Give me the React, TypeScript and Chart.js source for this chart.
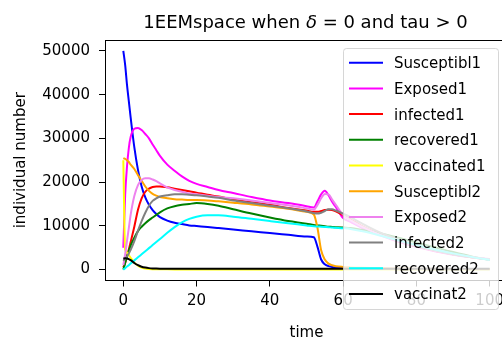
import React, { useEffect, useRef } from "react";
import { Chart, registerables } from "chart.js";

Chart.register(...registerables);

const TITLE_A = "1EEMspace when ";
const TITLE_DELTA = "δ";
const TITLE_B = " = 0 and tau > 0";
const X_LABEL = "time";
const Y_LABEL = "individual number";

const X_TICKS = [0, 20, 40, 60, 80, 100];
const Y_TICKS = [0, 10000, 20000, 30000, 40000, 50000];

const TIME = [0, 0.5, 1, 1.5, 2, 3, 4, 5, 6, 7, 8, 9, 10, 12, 14, 16, 18, 20, 23, 26, 30, 35, 40, 45, 50, 52, 53, 54, 55, 56, 57, 58, 60, 62, 65, 70, 75, 80, 85, 90, 95, 100];

const SUSCEPTIBL1 = [50000, 46800, 42300, 38500, 34800, 28000, 22800, 19000, 16500, 14800, 13600, 12700, 12000, 11200, 10700, 10400, 10100, 9950, 9730, 9490, 9160, 8760, 8350, 7950, 7550, 7380, 5200, 2300, 1200, 800, 600, 450, 300, 250, 200, 150, 120, 100, 100, 100, 100, 100];
const EXPOSED1 = [5000, 17000, 23500, 27800, 30300, 32200, 32400, 31900, 31000, 30000, 28600, 27300, 26000, 24000, 22600, 21300, 20300, 19600, 18900, 18200, 17500, 16600, 15800, 15200, 14500, 14200, 15600, 17200, 18000, 17000, 15500, 14300, 11800, 10900, 9600, 7900, 6400, 5200, 4200, 3400, 2800, 2300];
const INFECTED1 = [500, 1500, 3000, 4600, 6300, 9800, 13700, 16300, 17800, 18500, 18900, 19000, 19000, 18800, 18500, 18200, 17900, 17600, 17100, 16700, 16000, 15400, 14800, 14100, 13500, 13200, 13200, 13400, 13600, 13700, 13600, 13300, 12400, 11500, 10000, 8100, 6500, 5300, 4300, 3500, 2800, 2300];
const RECOVERED1 = [0, 1500, 3000, 4300, 5500, 7300, 8800, 9800, 10600, 11300, 11900, 12500, 13100, 14000, 14500, 14800, 15000, 15200, 15000, 14600, 13800, 12800, 11900, 11100, 10500, 10200, 10100, 10000, 9900, 9800, 9750, 9700, 9600, 9500, 9100, 8300, 7300, 6200, 5100, 4000, 3000, 2200];
const VACCINATED1 = [25000, 4500, 3900, 3300, 2700, 1600, 900, 450, 250, 150, 100, 80, 60, 50, 40, 30, 30, 30, 30, 30, 30, 30, 30, 30, 30, 30, 30, 30, 30, 30, 30, 30, 30, 30, 30, 30, 30, 30, 30, 30, 30, 30];
const SUSCEPTIBL2 = [25500, 25300, 25000, 24600, 24000, 23000, 21600, 20300, 19000, 18000, 17300, 16900, 16600, 16300, 16100, 16000, 15900, 15900, 15800, 15600, 15300, 14900, 14400, 13900, 13200, 12600, 9500, 4400, 2300, 1350, 1000, 780, 600, 500, 400, 300, 250, 200, 200, 150, 150, 150];
const EXPOSED2 = [1000, 3500, 6500, 9500, 12500, 16800, 19300, 20500, 20900, 20900, 20600, 20200, 19700, 18800, 18200, 17800, 17400, 17200, 16900, 16600, 16300, 15800, 15200, 14700, 14000, 13700, 14800, 16300, 17300, 17200, 16000, 14800, 12500, 11300, 9900, 8000, 6500, 5300, 4300, 3500, 2900, 2400];
const INFECTED2 = [2000, 2500, 3000, 3700, 4500, 6500, 8900, 11100, 13000, 14600, 15700, 16300, 16700, 17000, 17200, 17200, 17100, 17000, 16700, 16400, 15800, 15200, 14600, 14000, 13300, 12900, 12800, 13000, 13400, 13800, 13800, 13500, 12800, 12000, 10600, 8500, 6900, 5500, 4400, 3500, 2800, 2300];
const RECOVERED2 = [0, 300, 700, 1000, 1400, 2100, 2800, 3500, 4200, 4900, 5600, 6300, 7000, 8400, 9700, 10800, 11600, 12100, 12400, 12400, 12100, 11600, 11100, 10600, 10100, 9900, 9850, 9800, 9750, 9700, 9600, 9550, 9450, 9300, 8800, 7800, 6700, 5600, 4600, 3700, 2900, 2200];
const VACCINAT2 = [2500, 2600, 2550, 2400, 2150, 1500, 1000, 650, 450, 330, 260, 230, 210, 200, 200, 200, 200, 200, 200, 200, 200, 200, 200, 200, 200, 200, 200, 200, 200, 200, 200, 200, 200, 200, 200, 200, 200, 200, 200, 200, 200, 200];

const SERIES_NAMES = ["Susceptibl1", "Exposed1", "infected1", "recovered1", "vaccinated1", "Susceptibl2", "Exposed2", "infected2", "recovered2", "vaccinat2"];
const SERIES_VALUES = [SUSCEPTIBL1, EXPOSED1, INFECTED1, RECOVERED1, VACCINATED1, SUSCEPTIBL2, EXPOSED2, INFECTED2, RECOVERED2, VACCINAT2];
const SERIES_COLORS = ["#0000ff", "#ff00ff", "#ff0000", "#008000", "#ffff00", "#ffa500", "#ee82ee", "#808080", "#00ffff", "#000000"];

const FONT = "DejaVu Sans";

const decorPlugin = {
  id: "decor",
  afterDatasetsDraw(chart: any) {
    const { ctx, chartArea: a } = chart;
    ctx.save();
    ctx.strokeStyle = "#000";
    ctx.lineWidth = 1;
    const l = Math.round(a.left) + 0.5;
    const t = Math.round(a.top) + 0.5;
    const r = Math.round(a.right) + 0.5;
    const b = Math.floor(a.bottom) + 0.5;
    ctx.strokeRect(l, t, r - l, b - t);
    ctx.restore();
  },
  afterDraw(chart: any) {
    const { ctx, chartArea: a } = chart;
    ctx.save();
    // title
    ctx.fillStyle = "#000";
    ctx.textBaseline = "alphabetic";
    ctx.textAlign = "left";
    ctx.font = `18px "${FONT}"`;
    const wA = ctx.measureText(TITLE_A).width;
    const wB = ctx.measureText(TITLE_B).width;
    ctx.font = `italic 18px "${FONT}"`;
    const wD = ctx.measureText(TITLE_DELTA).width;
    const cx = (a.left + a.right) / 2 - 1;
    let x = cx - (wA + wB + wD) / 2;
    ctx.font = `18px "${FONT}"`;
    ctx.fillText(TITLE_A, x, 28);
    x += wA;
    ctx.font = `italic 18px "${FONT}"`;
    ctx.fillText(TITLE_DELTA, x, 28);
    x += wD;
    ctx.font = `18px "${FONT}"`;
    ctx.fillText(TITLE_B, x, 28);

    // x label
    ctx.font = `15px "${FONT}"`;
    ctx.textAlign = "center";
    ctx.fillText(X_LABEL, (a.left + a.right) / 2, 337);

    // y label
    ctx.save();
    ctx.translate(25, (a.top + a.bottom) / 2);
    ctx.rotate(-Math.PI / 2);
    ctx.textAlign = "center";
    ctx.fillText(Y_LABEL, 0, 0);
    ctx.restore();

    // legend
    const lx = 343.5, ly = 48.5, lw = 155, lh = 261, rad = 3;
    ctx.beginPath();
    ctx.moveTo(lx + rad, ly);
    ctx.lineTo(lx + lw - rad, ly);
    ctx.arcTo(lx + lw, ly, lx + lw, ly + rad, rad);
    ctx.lineTo(lx + lw, ly + lh - rad);
    ctx.arcTo(lx + lw, ly + lh, lx + lw - rad, ly + lh, rad);
    ctx.lineTo(lx + rad, ly + lh);
    ctx.arcTo(lx, ly + lh, lx, ly + lh - rad, rad);
    ctx.lineTo(lx, ly + rad);
    ctx.arcTo(lx, ly, lx + rad, ly, rad);
    ctx.closePath();
    ctx.fillStyle = "rgba(255,255,255,0.8)";
    ctx.fill();
    ctx.strokeStyle = "rgba(204,204,204,0.8)";
    ctx.lineWidth = 1;
    ctx.stroke();

    ctx.font = `15px "${FONT}"`;
    ctx.textAlign = "left";
    ctx.textBaseline = "alphabetic";
    SERIES_NAMES.forEach((name, i) => {
      const y = 62.7 + i * 25.7;
      ctx.strokeStyle = SERIES_COLORS[i];
      ctx.lineWidth = 2;
      ctx.beginPath();
      ctx.moveTo(349, y);
      ctx.lineTo(383, y);
      ctx.stroke();
      ctx.fillStyle = "#000";
      ctx.fillText(name, 394, y + 5.4);
    });
    ctx.restore();
  },
};

export default function App() {
  const ref = useRef<HTMLCanvasElement | null>(null);

  useEffect(() => {
    document.body.style.margin = "0";
    const canvas = ref.current;
    if (!canvas) return;
    const datasets = SERIES_NAMES.map((name, i) => ({
      label: name,
      data: TIME.map((t, j) => ({ x: t, y: SERIES_VALUES[i][j] })),
      borderColor: SERIES_COLORS[i],
      backgroundColor: SERIES_COLORS[i],
      borderWidth: 2,
      pointRadius: 0,
      fill: false,
      cubicInterpolationMode: "monotone" as const,
      order: SERIES_NAMES.length - i,
    }));
    const tickFont = { family: FONT, size: 15 };
    const chart = new Chart(canvas, {
      type: "line",
      data: { datasets },
      plugins: [decorPlugin],
      options: {
        animation: false,
        responsive: false,
        devicePixelRatio: 1,
        layout: { padding: { top: 40, right: 12, bottom: 0, left: 0 } },
        plugins: { legend: { display: false }, title: { display: false }, tooltip: { enabled: false } },
        scales: {
          x: {
            type: "linear",
            min: -5,
            max: 105,
            afterBuildTicks: (s: any) => { s.ticks = X_TICKS.map((v) => ({ value: v })); },
            afterFit: (s: any) => { s.height = 59.5; },
            ticks: { padding: 6, font: tickFont, color: "#000", maxRotation: 0, autoSkip: false, callback: (v: any) => String(v) },
            grid: { drawOnChartArea: false, drawTicks: true, tickLength: 6, color: "#000", lineWidth: 1 },
            border: { display: false },
          },
          y: {
            type: "linear",
            min: -2500,
            max: 52500,
            afterBuildTicks: (s: any) => { s.ticks = Y_TICKS.map((v) => ({ value: v })); },
            afterFit: (s: any) => { s.width = 105; },
            ticks: { padding: 9, font: tickFont, color: "#000", autoSkip: false, callback: (v: any) => String(v) },
            grid: { drawOnChartArea: false, drawTicks: true, tickLength: 6, color: "#000", lineWidth: 1 },
            border: { display: false },
          },
        },
      },
    });
    return () => chart.destroy();
  }, []);

  return (
    <div style={{ position: "fixed", left: 0, top: 0, width: 502, height: 340, overflow: "hidden", background: "#fff" }}>
      <canvas ref={ref} width={520} height={340} style={{ display: "block", width: 520, height: 340 }} />
    </div>
  );
}
